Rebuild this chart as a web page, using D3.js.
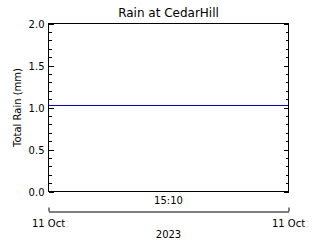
<!DOCTYPE html>
<html lang="en">
  <head>
    <meta charset="UTF-8" />
    <title>Rain at CedarHill</title>
    <script src="https://d3js.org/d3.v7.min.js"></script>
    <style>
      body { margin: 0; background: #fff; }
      text { font-family: "DejaVu Sans", sans-serif; fill: #000; }
    </style>
  </head>
  <body>
    <svg width="320" height="240"></svg>
    <script>
      // data
      var times = ["2023-10-11T15:05:00", "2023-10-11T15:15:00"];
      var rain = [1.024, 1.024];
      var yTicks = [0.0, 0.5, 1.0, 1.5, 2.0];
      var midLabel = "15:10";
      var dayLabel = "11 Oct";
      var yearLabel = "2023";

      var parse = d3.isoParse;
      var data = times.map((t, i) => ({ t: parse(t), v: rain[i] }));

      var svg = d3.select("svg");
      // plot box edges (window.top is read-only, so no "top" here)
      var boxL = 48.5, boxR = 288.5, boxT = 23.5, boxB = 191.5;

      var x = d3.scaleTime()
        .domain(d3.extent(data, (d) => d.t))
        .range([boxL, boxR]);
      var y = d3.scaleLinear().domain([0, 2]).range([boxB, boxT]);

      // plot box
      svg.append("rect")
        .attr("x", boxL).attr("y", boxT)
        .attr("width", boxR - boxL).attr("height", boxB - boxT)
        .attr("fill", "none").attr("stroke", "#000");

      // left and right axes, ticks pointing inward
      var minor = d3.range(0, 2.001, 0.1);
      var gl = svg.append("g").attr("transform", "translate(" + boxL + ",0)");
      gl.append("g").call(d3.axisRight(y).tickValues(minor).tickSize(3).tickFormat(""));
      gl.append("g").call(d3.axisRight(y).tickValues(yTicks).tickSize(5).tickFormat(""));

      var gr = svg.append("g").attr("transform", "translate(" + boxR + ",0)");
      gr.append("g").call(d3.axisLeft(y).tickValues(minor).tickSize(3).tickFormat(""));
      gr.append("g").call(d3.axisLeft(y).tickValues(yTicks).tickSize(5).tickFormat(""));
      svg.selectAll(".domain").remove();
      svg.selectAll(".tick line").attr("stroke", "#000").attr("shape-rendering", "crispEdges");

      svg.selectAll(".ylab").data(yTicks).join("text")
        .attr("class", "ylab")
        .attr("x", boxL - 4)
        .attr("y", (d) => y(d) + 4)
        .attr("text-anchor", "end")
        .attr("font-size", 10)
        .text((d) => d.toFixed(1));

      // data line
      var line = d3.line().x((d) => x(d.t)).y((d) => y(d.v));
      svg.append("path").datum(data)
        .attr("d", line)
        .attr("fill", "none")
        .attr("stroke", "#0000a0")
        .attr("stroke-width", 1);

      // time label under the box
      var mid = new Date((x.domain()[0].getTime() + x.domain()[1].getTime()) / 2);
      svg.append("text")
        .attr("x", x(mid)).attr("y", 204)
        .attr("text-anchor", "middle").attr("font-size", 10)
        .text(midLabel);

      // date axis
      var gd = svg.append("g").attr("transform", "translate(0,211.5)");
      gd.call(d3.axisTop(x).tickValues(x.domain()).tickSize(4).tickSizeOuter(0).tickFormat(""));
      gd.selectAll("path, line").attr("stroke", "#000");
      svg.selectAll(".dlab").data(x.domain()).join("text")
        .attr("class", "dlab")
        .attr("x", (d) => x(d))
        .attr("y", 227)
        .attr("text-anchor", "middle").attr("font-size", 10)
        .text(dayLabel);
      svg.append("text")
        .attr("x", (boxL + boxR) / 2).attr("y", 238)
        .attr("text-anchor", "middle").attr("font-size", 10)
        .text(yearLabel);

      // titles
      svg.append("text")
        .attr("x", (boxL + boxR) / 2).attr("y", 17)
        .attr("text-anchor", "middle").attr("font-size", 12)
        .text("Rain at CedarHill");
      svg.append("text")
        .attr("transform", "translate(21," + (boxT + boxB) / 2 + ") rotate(-90)")
        .attr("text-anchor", "middle").attr("font-size", 10)
        .text("Total Rain (mm)");
    </script>
  </body>
</html>
